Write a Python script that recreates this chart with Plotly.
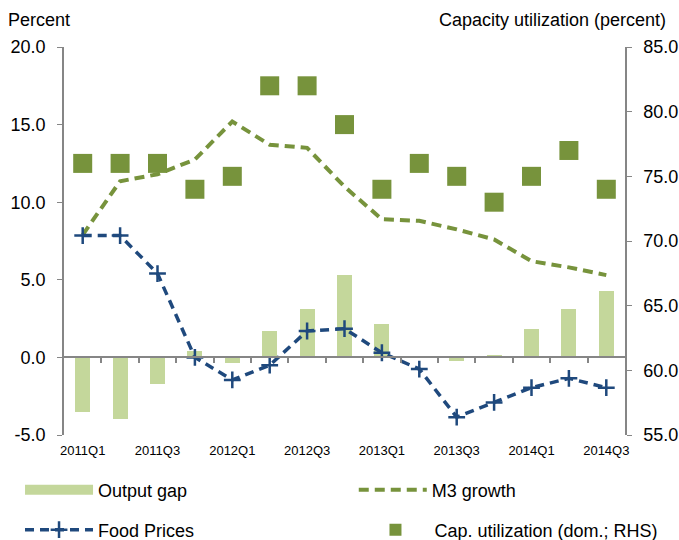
import numpy as np
import plotly.graph_objects as go

quarters = ["2011Q1", "2011Q2", "2011Q3", "2011Q4", "2012Q1", "2012Q2", "2012Q3", "2012Q4",
            "2013Q1", "2013Q2", "2013Q3", "2013Q4", "2014Q1", "2014Q2", "2014Q3"]
tick_labels = ["2011Q1", "2011Q3", "2012Q1", "2012Q3", "2013Q1", "2013Q3", "2014Q1", "2014Q3"]
output_gap = [-3.5, -4.0, -1.7, 0.4, -0.35, 1.7, 3.15, 5.3, 2.15, 0.0, -0.2, 0.17, 1.85, 3.1, 4.25]
m3_growth = [7.9, 11.35, 11.8, 12.75, 15.2, 13.7, 13.5, 11.0, 8.9, 8.8, 8.25, 7.6, 6.2, 5.8, 5.3]
food_prices = [7.85, 7.85, 5.4, 0.0, -1.45, -0.5, 1.7, 1.85, 0.3, -0.75, -3.85, -2.9, -1.95, -1.35, -1.95]
cap_util = [76, 76, 76, 74, 75, 82, 82, 79, 74, 76, 75, 73, 75, 77, 74]
left_ticks = [-5, 0, 5, 10, 15, 20]
left_tick_text = ["-5.0", "0.0", "5.0", "10.0", "15.0", "20.0"]
right_ticks = [55, 60, 65, 70, 75, 80, 85]
right_tick_text = ["55.0", "60.0", "65.0", "70.0", "75.0", "80.0", "85.0"]

FONT = "Liberation Sans, Arial, sans-serif"
AX = "#868686"
GREEN = "#77933c"
LIGHT = "#c4d79b"
NAVY = "#1f497d"

x = np.arange(len(quarters))
tick_pos = [quarters.index(t) for t in tick_labels]

fig = go.Figure()
fig.add_trace(go.Bar(x=x, y=output_gap, name="Output gap", marker=dict(color=LIGHT, line=dict(width=0)),
                     width=0.4, showlegend=False))
# legend proxy for the bars (wide swatch as in the reference)
fig.add_trace(go.Scatter(x=[None], y=[None], name="Output gap", mode="lines",
                         line=dict(color=LIGHT, width=10), legend="legend"))
fig.add_trace(go.Scatter(x=x, y=m3_growth, name="M3 growth", mode="lines",
                         line=dict(color=GREEN, width=4, dash="10px,6px"), legend="legend2"))
fig.add_trace(go.Scatter(x=x, y=food_prices, name="Food Prices", mode="lines+markers",
                         line=dict(color=NAVY, width=3.5, dash="9px,6px"),
                         marker=dict(symbol="cross-thin", size=12, line=dict(color=NAVY, width=2.5)),
                         legend="legend3"))
fig.add_trace(go.Scatter(x=x, y=cap_util, name="Cap. utilization (dom.; RHS)", mode="markers",
                         marker=dict(symbol="square", size=19, color=GREEN),
                         yaxis="y2", legend="legend4"))
# helper trace for the zero-crossing category axis
fig.add_trace(go.Scatter(x=x, y=output_gap, xaxis="x2", mode="lines", line=dict(width=0),
                         opacity=0, showlegend=False, hoverinfo="skip"))


def leg(xc, yc, **kw):
    d = dict(orientation="h", xref="container", yref="container", x=xc, xanchor="left",
             y=yc, yanchor="middle", itemwidth=68, bgcolor="rgba(0,0,0,0)", font=dict(size=18))
    d.update(kw)
    return d


fig.update_layout(
    width=679, height=540,
    margin=dict(l=64, r=54, t=47, b=105, autoexpand=False),
    plot_bgcolor="white", paper_bgcolor="white",
    font=dict(family=FONT, color="#000000", size=18),
    showlegend=True,
    bargap=0,
    xaxis=dict(range=[-0.5, len(quarters) - 0.5], tickmode="array", tickvals=tick_pos, ticktext=tick_labels,
               showline=False, showgrid=False, zeroline=False, ticks="", ticklabelstandoff=6,
               tickfont=dict(size=13, family=FONT), automargin=False),
    xaxis2=dict(range=[-0.5, len(quarters) - 0.5], overlaying="x", anchor="free", position=0.2,
                tickmode="array", tickvals=list(x[:-1] + 0.5), showticklabels=False,
                showline=True, linecolor=AX, linewidth=2, ticks="outside", ticklen=5, tickcolor=AX,
                tickwidth=1.5, showgrid=False, zeroline=False, automargin=False),
    yaxis=dict(range=[-5, 20], tickmode="array", tickvals=left_ticks, ticktext=left_tick_text,
               showline=True, linecolor=AX, linewidth=1.5, ticks="outside", ticklen=5, tickcolor=AX,
               showgrid=False, zeroline=False, ticklabelstandoff=8, tickfont=dict(size=18),
               automargin=False),
    yaxis2=dict(range=[55, 85], overlaying="y", side="right", tickmode="array", tickvals=right_ticks,
                ticktext=right_tick_text, showline=True, linecolor=AX, linewidth=1.5, ticks="outside",
                ticklen=5, tickcolor=AX, showgrid=False, zeroline=False, ticklabelstandoff=8,
                tickfont=dict(size=18), automargin=False),
    legend=leg(0.0295, 0.0926),
    legend2=leg(0.521, 0.0926),
    legend3=leg(0.0295, 0.0185),
    legend4=leg(0.525, 0.0185, itemsizing="constant"),
    annotations=[
        dict(text="Percent", xref="paper", yref="paper", x=-0.104, y=1.069, xanchor="left", yanchor="middle",
             showarrow=False, font=dict(size=18)),
        dict(text="Capacity utilization (percent)", xref="paper", yref="paper", x=1.077, y=1.069,
             xanchor="right", yanchor="middle", showarrow=False, font=dict(size=18)),
    ],
)

fig.write_html("out.html", config={"displayModeBar": False},
               post_script="document.body.style.margin='0';document.body.style.padding='0';")
